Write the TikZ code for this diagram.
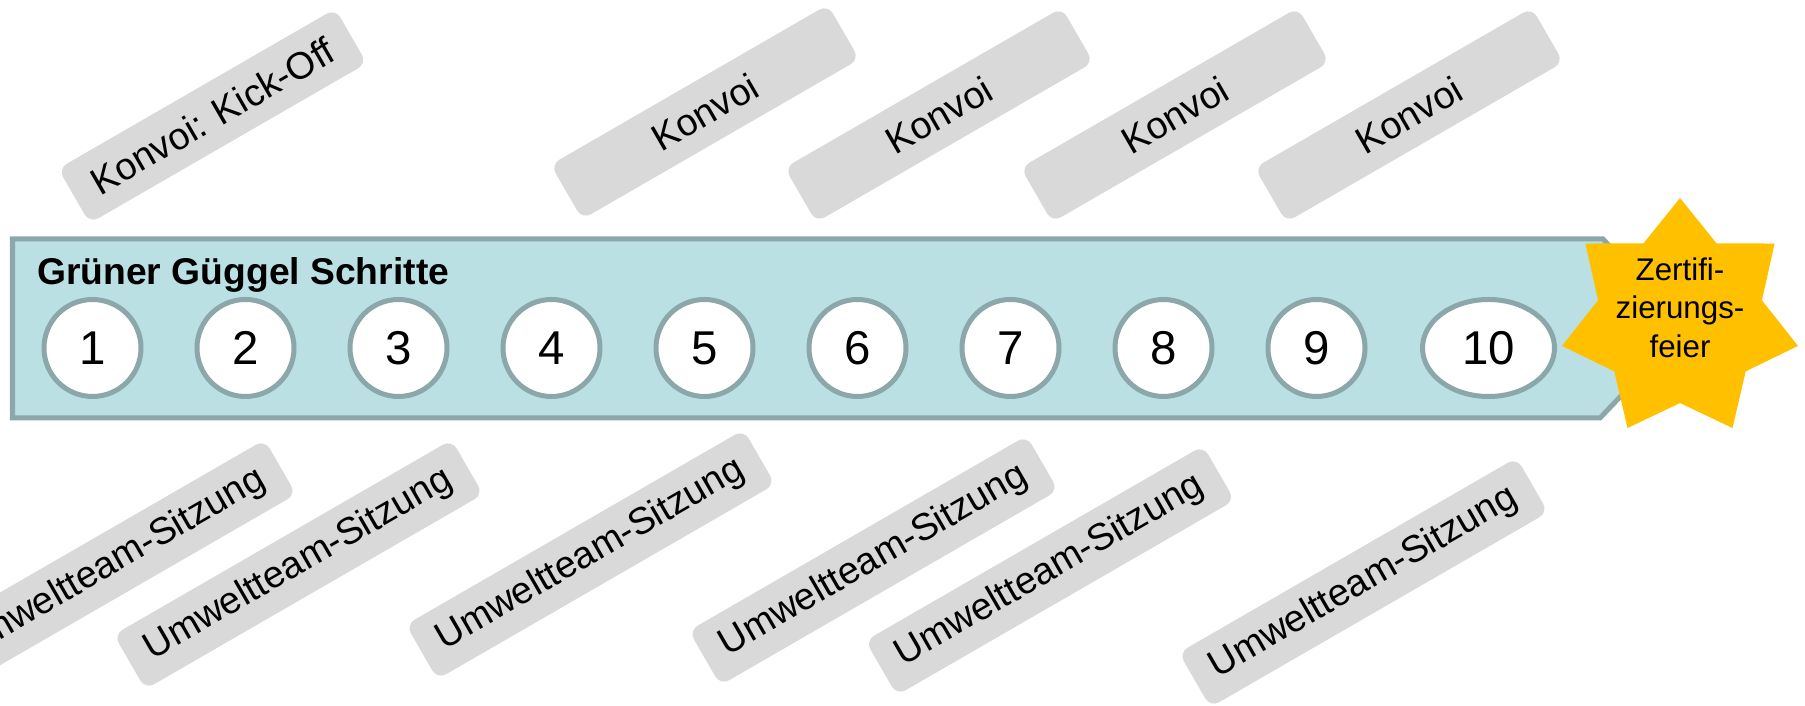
\documentclass[tikz,border=0pt]{standalone}
\usepackage{fontspec}
\setmainfont{Liberation Sans}
\usepackage{tikz}
\usetikzlibrary{shapes.geometric}
\usepackage{xcolor}
\definecolor{bannerfill}{RGB}{186,224,228}
\definecolor{bannerline}{RGB}{140,167,169}
\definecolor{taggray}{RGB}{217,217,217}
\definecolor{stargold}{RGB}{255,192,0}

\begin{document}
\begin{tikzpicture}[
    tag/.style={fill=taggray, rounded corners=0.2cm, rotate=30, minimum height=1.26cm, font=\fontsize{21.5}{25}\selectfont},
    konvoi/.style={tag, minimum width=6.4cm},
    sitzung/.style={tag, minimum width=7.8cm},
    stepnum/.style={circle, draw=bannerline, line width=0.1cm, fill=white, minimum size=1.94cm, inner sep=0pt, font=\fontsize{27}{31}\selectfont}
]
\useasboundingbox (0,0) rectangle (36.1,14.12);

% Banner with the ten steps
\draw[line width=0.1cm, draw=bannerline, fill=bannerfill] (0.25,9.34) -- (32.06,9.34) -- (33.7,7.55) -- (32.0,5.76) -- (0.25,5.76) -- cycle;
\node[anchor=base west, font=\bfseries\fontsize{21.2}{25}\selectfont] (title) at (0.62,8.42) {Grüner Güggel Schritte};

\node[stepnum] (s1) at (1.85,7.16) {1};
\node[stepnum] (s2) at (4.91,7.16) {2};
\node[stepnum] (s3) at (7.97,7.16) {3};
\node[stepnum] (s4) at (11.03,7.16) {4};
\node[stepnum] (s5) at (14.09,7.16) {5};
\node[stepnum] (s6) at (17.15,7.16) {6};
\node[stepnum] (s7) at (20.21,7.16) {7};
\node[stepnum] (s8) at (23.27,7.16) {8};
\node[stepnum] (s9) at (26.33,7.16) {9};
\node[stepnum, ellipse, minimum width=2.64cm] (s10) at (29.77,7.16) {10};

% Certification star
\node[star, star points=7, star point ratio=1.44, fill=stargold, minimum size=4.84cm, inner sep=0pt] (feier) at (33.6,7.74) {};
\node[align=center, font=\fontsize{17.8}{21.9}\selectfont] (feiertext) at (33.6,7.97) {Zertifi-\\zierungs-\\feier};

% Convoy meetings above
\node[konvoi] (kickoff) at (4.25,11.8) {Konvoi: Kick-Off};
\node[konvoi] (konvoi1) at (14.1,11.88) {Konvoi};
\node[konvoi] (konvoi2) at (18.78,11.82) {Konvoi};
\node[konvoi] (konvoi3) at (23.5,11.82) {Konvoi};
\node[konvoi] (konvoi4) at (28.18,11.82) {Konvoi};

% Team meetings below
\node[sitzung] (sitzung1) at (2.23,2.83) {Umweltteam-Sitzung};
\node[sitzung] (sitzung2) at (5.97,2.83) {Umweltteam-Sitzung};
\node[sitzung] (sitzung3) at (11.81,3.03) {Umweltteam-Sitzung};
\node[sitzung] (sitzung4) at (17.47,2.91) {Umweltteam-Sitzung};
\node[sitzung] (sitzung5) at (21.0,2.71) {Umweltteam-Sitzung};
\node[sitzung] (sitzung6) at (27.27,2.47) {Umweltteam-Sitzung};

\end{tikzpicture}
\end{document}
